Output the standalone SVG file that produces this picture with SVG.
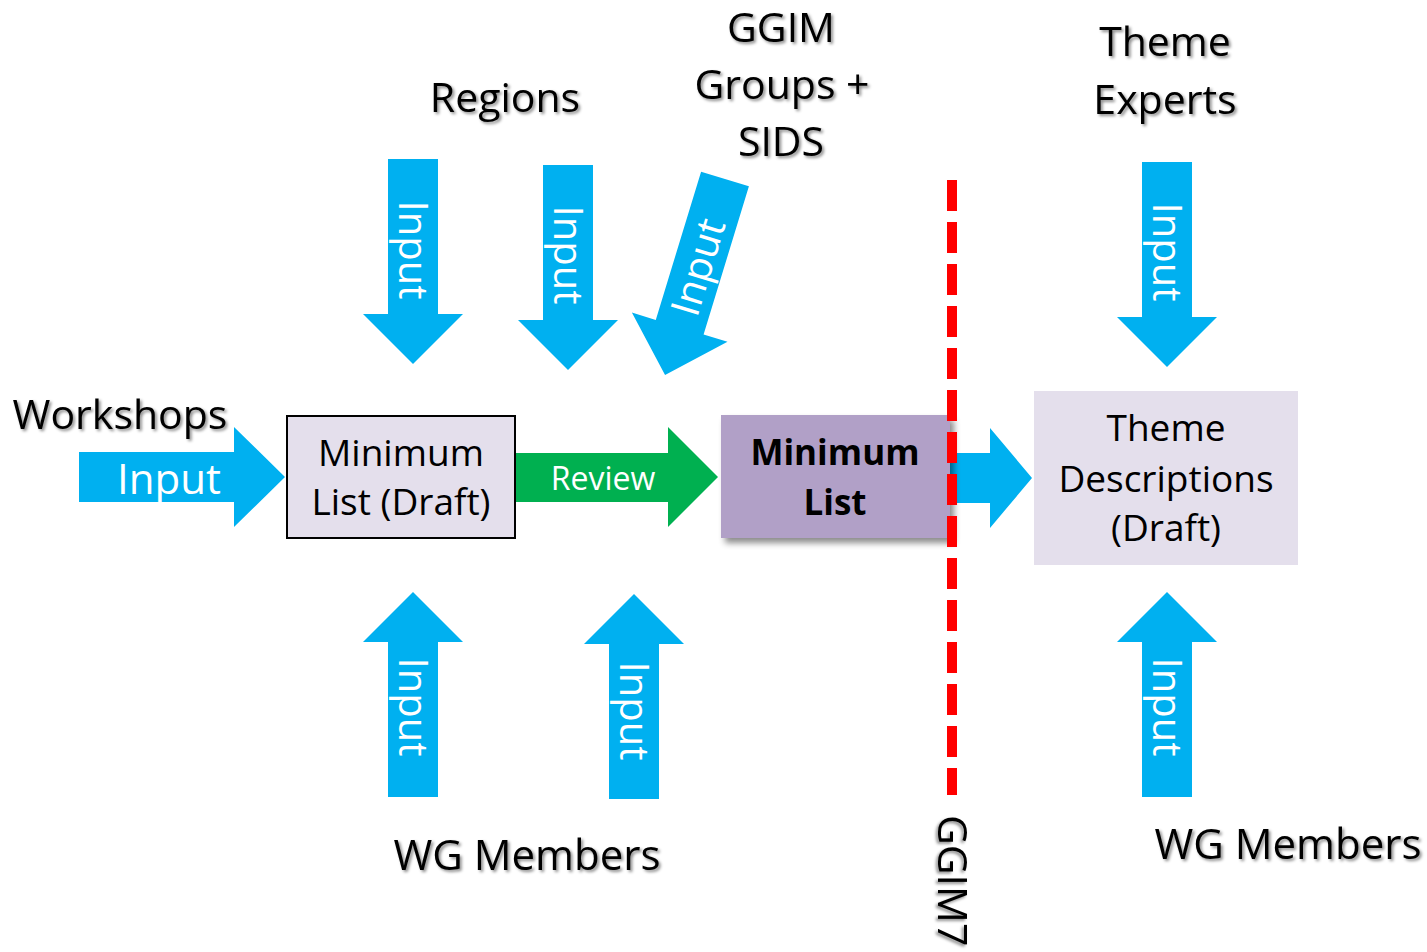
<svg xmlns="http://www.w3.org/2000/svg" width="1427" height="952" viewBox="0 0 1427 952">
<defs>
<filter id="tsh" x="-10%" y="-20%" width="130%" height="150%">
<feDropShadow dx="2" dy="2" stdDeviation="1.5" flood-color="#000" flood-opacity="0.45"/>
</filter>
<filter id="bsh" x="-10%" y="-10%" width="130%" height="140%">
<feDropShadow dx="4" dy="5" stdDeviation="3" flood-color="#000" flood-opacity="0.45"/>
</filter>
<path id="down" d="M-25,0 H25 V155 H50 L0,205 L-50,155 H-25 Z"/>
<path id="up" d="M-25,0 V-155 H-50 L0,-205 L50,-155 H25 V0 Z"/>
</defs>
<style>
text{font-family:"Open Sans","Liberation Sans",sans-serif;}
.lbl{font-size:41px;fill:#000;text-anchor:middle;filter:url(#tsh);}
.box{font-size:37px;fill:#000;text-anchor:middle;}
.bold{font-size:35px;font-weight:bold;fill:#000;text-anchor:middle;}
.in{font-size:40px;fill:#fff;text-anchor:middle;}
.blue{fill:#00B0F0;}
.green{fill:#00B050;}
</style>
<rect width="1427" height="952" fill="#fff"/>

<g id="workshops"><text class="lbl" x="120" y="429">Workshops</text></g>
<g id="regions"><text class="lbl" x="505" y="112">Regions</text></g>
<g id="ggim-groups">
<text class="lbl" x="781" y="42">GGIM</text>
<text class="lbl" x="782" y="99">Groups +</text>
<text class="lbl" x="781" y="156">SIDS</text>
</g>
<g id="theme-experts">
<text class="lbl" x="1165" y="56">Theme</text>
<text class="lbl" x="1165" y="114">Experts</text>
</g>
<g id="wg-members-1"><text class="lbl" x="527" y="870" style="font-size:42px">WG Members</text></g>
<g id="wg-members-2"><text class="lbl" x="1288" y="859" style="font-size:42px">WG Members</text></g>

<g id="connectors">
<g id="in-workshops">
<path class="blue" d="M79,452 H234 V427 L285,477 L234,527 V502 H79 Z"/>
<text class="in" x="169" y="494" style="font-size:42px">Input</text>
</g>
<g id="in-regions-1">
<use href="#down" class="blue" transform="translate(413,159)"/>
<text class="in" transform="translate(399,250) rotate(90)">Input</text>
</g>
<g id="in-regions-2">
<use href="#down" class="blue" transform="translate(568,165)"/>
<text class="in" transform="translate(554,255) rotate(90)">Input</text>
</g>
<g id="in-ggim" transform="translate(725,179) rotate(17)">
<use href="#down" class="blue"/>
<text class="in" transform="translate(14,92) rotate(-90)">Input</text>
</g>
<g id="in-wg-1">
<use href="#up" class="blue" transform="translate(413,797)"/>
<text class="in" transform="translate(399,707) rotate(90)">Input</text>
</g>
<g id="in-wg-2">
<use href="#up" class="blue" transform="translate(634,799)"/>
<text class="in" transform="translate(620,711) rotate(90)">Input</text>
</g>
<g id="in-theme">
<use href="#down" class="blue" transform="translate(1167,162)"/>
<text class="in" transform="translate(1153,252) rotate(90)">Input</text>
</g>
<g id="in-wg-3">
<use href="#up" class="blue" transform="translate(1167,797)"/>
<text class="in" transform="translate(1153,707) rotate(90)">Input</text>
</g>
<g id="review">
<path class="green" d="M513,453 H668 V427 L718,477 L668,527 V502 H513 Z"/>
<text x="603" y="490" style="font-size:32px;fill:#fff;text-anchor:middle">Review</text>
</g>
<g id="to-theme">
<path class="blue" d="M940,453 H990 V428 L1032,478 L990,528 V503 H940 Z"/>
</g>
</g>

<g id="min-list-draft">
<rect x="287" y="416" width="228" height="122" fill="#E4DFEC" stroke="#000" stroke-width="2"/>
<text class="box" x="401" y="466">Minimum</text>
<text class="box" x="401" y="515">List (Draft)</text>
</g>

<g id="min-list">
<rect x="721" y="415" width="229" height="123" fill="#B1A0C7" filter="url(#bsh)"/>
<text class="bold" x="835" y="465">Minimum</text>
<text class="bold" x="835" y="515">List</text>
</g>

<g id="theme-desc">
<rect x="1034" y="391" width="264" height="174" fill="#E4DFEC"/>
<text class="box" x="1166" y="441">Theme</text>
<text class="box" x="1166" y="492">Descriptions</text>
<text class="box" x="1166" y="541">(Draft)</text>
</g>

<g id="ggim7">
<line x1="952" y1="180" x2="952" y2="795" stroke="#FF0000" stroke-width="10" stroke-dasharray="31 11"/>
<text class="lbl" transform="translate(938,815) rotate(90)" style="text-anchor:start">GGIM7</text>
</g>
</svg>
